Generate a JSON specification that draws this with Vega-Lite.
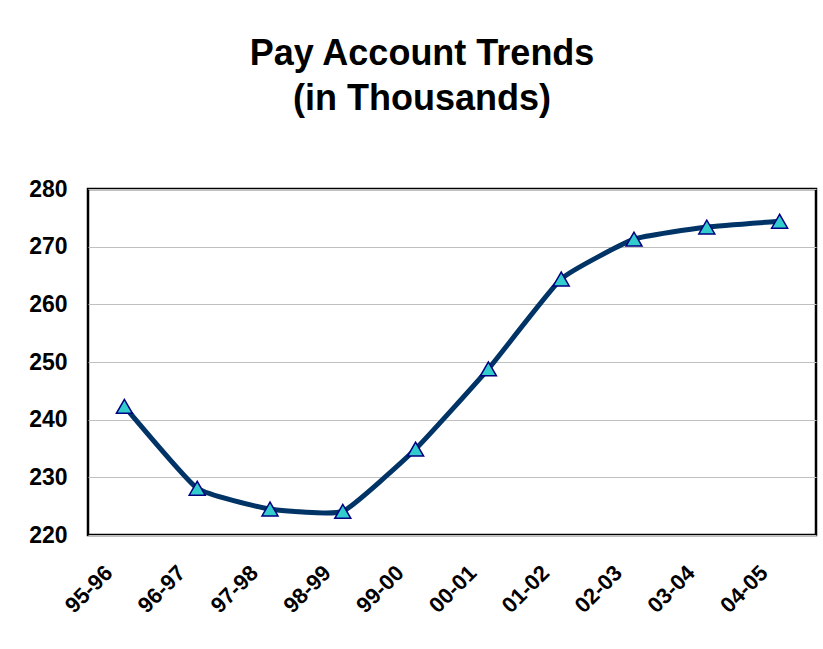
{
  "$schema": "https://vega.github.io/schema/vega-lite/v6.json",
  "autosize": {"type": "none"},
  "padding": {"left": 88, "top": 189, "right": 7, "bottom": 114},
  "width": 728,
  "height": 346,
  "background": "white",
  "title": {
    "text": ["Pay Account Trends", "(in Thousands)"],
    "font": "Liberation Sans",
    "fontSize": 36,
    "fontWeight": "bold",
    "color": "black",
    "lineHeight": 45,
    "anchor": "middle",
    "frame": "group",
    "dx": -30,
    "offset": 60
  },
  "data": {
    "values": [
      {"year": "95-96", "value": 242.3},
      {"year": "96-97", "value": 228.1},
      {"year": "97-98", "value": 224.5},
      {"year": "98-99", "value": 224.1},
      {"year": "99-00", "value": 234.9},
      {"year": "00-01", "value": 248.8},
      {"year": "01-02", "value": 264.4},
      {"year": "02-03", "value": 271.3},
      {"year": "03-04", "value": 273.4},
      {"year": "04-05", "value": 274.4}
    ]
  },
  "encoding": {
    "x": {
      "field": "year",
      "type": "ordinal",
      "sort": null,
      "scale": {"type": "point", "padding": 0.5},
      "axis": {
        "title": null,
        "labelAngle": -45,
        "labelAlign": "right",
        "labelBaseline": "middle",
        "labelOffset": -16,
        "labelPadding": 34,
        "ticks": false,
        "domain": false,
        "grid": false,
        "labelFont": "Liberation Sans",
        "labelFontSize": 22,
        "labelFontWeight": "bold",
        "labelColor": "black"
      }
    },
    "y": {
      "field": "value",
      "type": "quantitative",
      "scale": {"domain": [220, 280], "nice": false, "zero": false},
      "axis": {
        "title": null,
        "values": [220, 230, 240, 250, 260, 270, 280],
        "ticks": false,
        "domain": false,
        "grid": true,
        "gridColor": "#C0C0C0",
        "gridWidth": 1,
        "labelPadding": 21,
        "labelFont": "Liberation Sans",
        "labelFontSize": 23,
        "labelFontWeight": "bold",
        "labelColor": "black"
      }
    }
  },
  "layer": [
    {
      "mark": {"type": "line", "color": "#003366", "strokeWidth": 5, "interpolate": "cardinal", "tension": 0.6}
    },
    {
      "mark": {"type": "point", "shape": "triangle-up", "size": 256, "filled": true, "fill": "#33CCCC", "stroke": "#000080", "strokeWidth": 1.5, "opacity": 1}
    }
  ],
  "config": {
    "view": {"stroke": "black", "strokeWidth": 2.5}
  }
}
